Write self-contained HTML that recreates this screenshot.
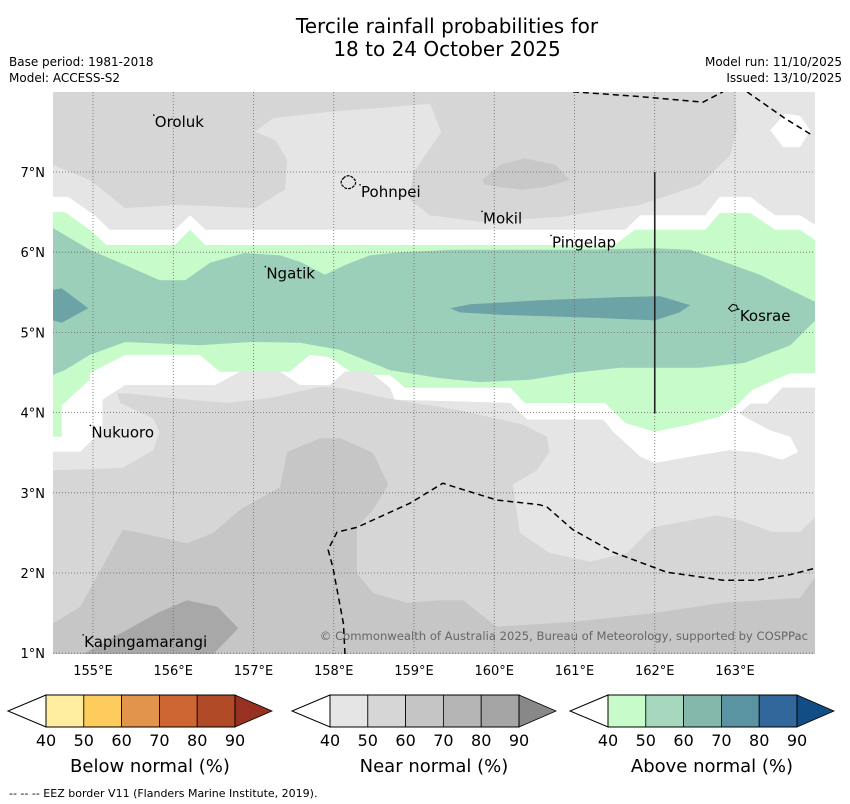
<!DOCTYPE html>
<html><head><meta charset="utf-8"><title>Tercile rainfall probabilities</title>
<style>
html,body{margin:0;padding:0;background:#fff;}
svg{display:block;font-family:"DejaVu Sans","Liberation Sans",sans-serif;}
</style></head>
<body>
<svg id="chart" width="850" height="804" viewBox="0 0 850 804" xmlns="http://www.w3.org/2000/svg">
<text x="447" y="33" font-size="20" text-anchor="middle" fill="#000">Tercile rainfall probabilities for</text>
<text x="447" y="56" font-size="20" text-anchor="middle" fill="#000">18 to 24 October 2025</text>
<text x="9" y="66" font-size="12">Base period: 1981-2018</text>
<text x="9" y="82" font-size="12">Model: ACCESS-S2</text>
<text x="842" y="66" font-size="12" text-anchor="end">Model run: 11/10/2025</text>
<text x="842" y="82" font-size="12" text-anchor="end">Issued: 13/10/2025</text>
<defs><clipPath id="mapclip"><rect x="53" y="92" width="762" height="562"/></clipPath></defs>
<g id="map" clip-path="url(#mapclip)"></g>
<g id="axes"></g>
<g id="bars"></g>
<text x="9" y="797" font-size="11">--  --  -- EEZ border V11 (Flanders Marine Institute, 2019).</text>
</svg>
<script>
// ---- axis data ----
const lonTicks = [155,156,157,158,159,160,161,162,163];
const latTicks = [1,2,3,4,5,6,7];
// ---- contour data (lon, lat) ----
const upperLight = [[154.5,7.09],[154.96,6.90],[155.40,6.55],[156.08,6.59],[157.02,6.55],[157.39,6.78],[157.42,7.15],[157.27,7.40],[157.02,7.50],[157.24,7.67],[157.95,7.75],[159.20,7.85],[159.34,7.50],[158.99,6.99],[158.95,6.65],[159.20,6.46],[159.82,6.38],[160.82,6.44],[161.82,6.59],[162.56,6.84],[162.94,7.21],[163.02,7.52],[163.00,8.0],[164,8],[164,5.9],[154.5,5.9]];
const mokilBlob = [[159.85,6.90],[160.07,7.09],[160.38,7.17],[160.76,7.09],[160.94,6.90],[160.63,6.81],[160.32,6.78],[159.88,6.84]];
const whiteTop = [[154.5,6.69],[154.69,6.69],[155.02,6.46],[155.21,6.28],[156.02,6.28],[156.21,6.46],[156.40,6.28],[161.63,6.28],[161.82,6.46],[162.63,6.46],[162.81,6.69],[163.19,6.69],[163.50,6.46],[163.81,6.46],[164,6.34]];
const whiteLow = [[154.5,3.51],[154.84,3.51],[155.12,3.78],[155.12,4.16],[155.40,4.34],[156.52,4.34],[156.83,4.51],[157.33,4.51],[157.58,4.34],[157.95,4.34],[158.14,4.51],[158.45,4.51],[158.70,4.31],[158.76,4.16],[160.20,4.12],[160.41,3.91],[161.36,3.91],[161.48,3.76],[161.82,3.45],[162.00,3.37],[162.56,3.47],[162.94,3.53],[163.27,3.50],[163.59,3.41],[163.79,3.51],[163.69,3.70],[163.44,3.78],[163.19,3.91],[163.06,3.99],[163.19,4.11],[163.40,4.11],[163.59,4.31],[164,4.31]];
const greenTop = [[154.5,6.50],[154.65,6.50],[154.96,6.28],[155.17,6.09],[156.02,6.09],[156.21,6.28],[156.40,6.09],[161.50,6.09],[161.75,6.28],[162.63,6.28],[162.81,6.49],[163.19,6.49],[163.50,6.28],[163.81,6.28],[164,6.15]];
const greenLow = [[154.5,3.70],[154.61,3.70],[154.61,4.09],[154.96,4.41],[154.96,4.49],[155.40,4.72],[156.33,4.72],[156.58,4.51],[157.45,4.51],[157.70,4.72],[157.95,4.69],[158.26,4.47],[158.70,4.47],[158.89,4.31],[160.20,4.31],[160.38,4.12],[161.38,4.12],[161.63,3.87],[162.00,3.76],[162.43,3.85],[162.81,3.95],[163.02,4.09],[163.21,4.28],[163.50,4.41],[163.69,4.49],[164,4.49]];
const midTop = [[154.5,6.30],[154.96,6.03],[155.40,5.84],[155.83,5.65],[156.15,5.65],[156.46,5.87],[156.89,5.99],[157.33,5.96],[157.58,5.88],[157.89,5.72],[158.14,5.84],[158.45,5.96],[158.83,6.00],[159.51,6.03],[161.07,6.03],[162.00,6.05],[162.44,6.03],[162.81,5.90],[163.31,5.72],[163.69,5.53],[164,5.38]];
const midLow = [[154.5,4.47],[154.65,4.53],[154.96,4.72],[155.40,4.88],[156.33,4.84],[156.96,4.88],[157.58,4.87],[158.08,4.78],[158.70,4.53],[159.32,4.43],[159.82,4.38],[160.45,4.41],[160.94,4.49],[161.57,4.56],[162.56,4.56],[163.12,4.62],[163.69,4.84],[164,5.15]];
const darkLeft = [[154.5,5.53],[154.61,5.55],[154.94,5.30],[154.61,5.12],[154.5,5.15]];
const darkCenter = [[159.45,5.30],[159.70,5.35],[160.57,5.40],[161.57,5.44],[162.07,5.45],[162.44,5.34],[162.31,5.25],[162.00,5.15],[161.32,5.18],[160.07,5.22],[159.57,5.25]];
const lowerMid = [[154.5,3.28],[155.37,3.31],[155.75,3.53],[155.83,3.75],[155.75,3.93],[155.34,4.12],[155.30,4.24],[155.42,4.24],[156.00,4.18],[156.67,4.12],[157.24,4.19],[157.83,4.32],[158.08,4.31],[158.66,4.18],[159.57,4.03],[160.36,3.85],[160.66,3.70],[160.69,3.51],[160.53,3.28],[160.23,3.10],[160.32,2.50],[160.69,2.25],[161.19,2.14],[161.65,2.25],[161.98,2.57],[162.78,2.72],[163.06,2.66],[163.47,2.51],[163.81,2.51],[164,2.70],[164,0.99],[154.5,0.99]];
const lowerDark = [[154.5,1.37],[154.84,1.58],[155.37,2.54],[155.59,2.50],[156.17,2.37],[156.50,2.50],[156.83,2.79],[157.33,3.07],[157.42,3.51],[157.83,3.68],[158.08,3.68],[158.49,3.50],[158.68,3.10],[158.49,2.79],[158.29,2.57],[158.29,2.00],[158.49,1.75],[158.91,1.63],[159.32,1.66],[159.61,1.66],[160.03,1.33],[160.98,1.39],[161.98,1.50],[162.85,1.63],[163.81,1.69],[164,1.95],[164,0.99],[154.5,0.99]];
const kapingaBlob = [[154.88,0.99],[155.80,1.50],[156.17,1.66],[156.55,1.58],[156.81,1.31],[156.50,0.99]];
const whiteHex = [[163.44,7.52],[163.62,7.73],[163.81,7.70],[163.94,7.52],[163.81,7.31],[163.60,7.31]];
const eezTop = [[160.98,8.0],[161.82,7.94],[162.60,7.87],[162.85,8.0]];
const eezTopRight = [[163.15,8.0],[163.62,7.67],[163.96,7.46]];
const eezBottom = [[158.14,0.99],[158.12,1.37],[157.99,2.07],[157.93,2.29],[158.04,2.51],[158.29,2.57],[158.95,2.87],[159.36,3.12],[159.45,3.09],[160.03,2.91],[160.57,2.85],[160.66,2.82],[160.98,2.54],[161.48,2.26],[162.15,2.01],[162.85,1.91],[163.27,1.91],[163.69,1.98],[164,2.06]];
const places = ["Oroluk","Pohnpei","Mokil","Pingelap","Ngatik","Kosrae","Nukuoro","Kapingamarangi"];
const placeLon = [155.77,158.34,159.86,160.72,157.16,163.06,154.98,154.89];
const placeLat = [7.56,6.69,6.36,6.06,5.67,5.14,3.69,1.08];
// ---- colorbar data ----
const barTicks = ["40","50","60","70","80","90"];
const barTitles = ["Below normal (%)","Near normal (%)","Above normal (%)"];
const belowColors = ["#ffeda0","#fecc5c","#e1944a","#cd6632","#b14a26","#973121"];
const nearColors = ["#e5e5e5","#d6d6d6","#c5c5c5","#b5b5b5","#a5a5a5","#888888"];
const aboveColors = ["#c7fbc9","#a5d8bc","#84b8aa","#5a93a2","#31679a","#134d85"];

const NS = "http://www.w3.org/2000/svg";
const X = lon => 93 + (lon - 155) * 80.25;
const Y = lat => 172 + (7 - lat) * 80.2;
function mk(tag, parent, attrs){ const e=document.createElementNS(NS,tag); for(const k in attrs) e.setAttribute(k,attrs[k]); parent.appendChild(e); return e; }
const pts = arr => arr.map(p => X(p[0]).toFixed(1)+","+Y(p[1]).toFixed(1)).join(" ");
const map = document.getElementById("map");
function poly(arr, fill, name){
  const e = mk("polygon", map, {points: pts(arr), fill: fill});
  
  
}
const base = mk("rect", map, {x:53,y:92,width:762,height:562,fill:"#d6d6d6"});


poly(upperLight, "#e5e5e5", "near-normal-40-50-north");
poly(mokilBlob, "#c8c8c8", "near-normal-60-70-mokil");
poly(whiteTop.concat(whiteLow.slice().reverse()), "#ffffff", "no-dominant-tercile-band");
poly(greenTop.concat(greenLow.slice().reverse()), "#c7fbc9", "above-normal-40-50");
poly(midTop.concat(midLow.slice().reverse()), "#9ccfb9", "above-normal-50-60");
poly(darkLeft, "#6ba3a7", "above-normal-60-70-west");
poly(darkCenter, "#6ba3a7", "above-normal-60-70-central");
poly(whiteLow.concat([[164,0.99],[154.5,0.99]]), "#e5e5e5", "near-normal-40-50-south");
poly(lowerMid, "#d6d6d6", "near-normal-50-60-south");
poly(lowerDark, "#c6c6c6", "near-normal-60-70-south");
poly(kapingaBlob, "#a8a8a8", "near-normal-70-80-kapingamarangi");
poly(whiteHex, "#ffffff", "no-dominant-tercile-northeast");

for (const lon of lonTicks){
  const l = mk("line", map, {x1:X(lon),x2:X(lon),y1:92,y2:654,stroke:"#666","stroke-width":0.8,"stroke-dasharray":"1,2"});
  
  
}
for (const lat of latTicks){
  const l = mk("line", map, {x1:53,x2:815,y1:Y(lat),y2:Y(lat),stroke:"#666","stroke-width":0.8,"stroke-dasharray":"1,2"});
  
  
}
for (const [arr,name] of [[eezTop,"eez-border-north"],[eezTopRight,"eez-border-northeast"],[eezBottom,"eez-border-south"]]){
  const e = mk("polyline", map, {points: pts(arr), fill:"none", stroke:"#000","stroke-width":1.5,"stroke-dasharray":"6,4"});
  
  
}
const vl = mk("line", map, {x1:X(162),x2:X(162),y1:Y(7),y2:Y(3.99),stroke:"#222","stroke-width":1.6});


const pohn = mk("path", map, {d:`M${X(158.12)},${Y(6.92)} c3,-4 8,-3 10,0 c3,2 3,6 0,8 c-3,3 -8,3 -10,0 c-3,-2 -3,-6 0,-8 z`, fill:"none", stroke:"#000","stroke-width":1.2,"stroke-dasharray":"3,1"});


const kos = mk("path", map, {d:`M${X(162.92)},${Y(5.30)} l4,-4 l4,1 l1,4 l-6,2 z`, fill:"none", stroke:"#000","stroke-width":1});


places.forEach((p,i)=>{
  const d = mk("circle", map, {cx:X(placeLon[i])-1, cy:Y(placeLat[i])-12, r:0.8, fill:"#000"});
  
  
  const t = mk("text", map, {x:X(placeLon[i]), y:Y(placeLat[i]), "font-size":15, fill:"#000"});
  t.textContent = p;
  
  
});
const cp = mk("text", map, {x:808,y:640,"font-size":11.6,fill:"#666","text-anchor":"end"});
cp.textContent = "© Commonwealth of Australia 2025, Bureau of Meteorology, supported by COSPPac";



const axes = document.getElementById("axes");
for (const lon of lonTicks){
  const t = mk("text", axes, {x:X(lon), y:675, "font-size":13, "text-anchor":"middle"});
  t.textContent = lon + "°E";
  
  
}
for (const lat of latTicks){
  const t = mk("text", axes, {x:45, y:Y(lat)+5, "font-size":13, "text-anchor":"end"});
  t.textContent = lat + "°N";
  
  
}

const bars = document.getElementById("bars");
const barLeft = [46,330,608];
const palettes = [belowColors, nearColors, aboveColors];
const barNames = ["below-normal-colorbar","near-normal-colorbar","above-normal-colorbar"];
palettes.forEach((cols,b)=>{
  const g = mk("g", bars, {});
  
  
  const x0 = barLeft[b], w = 37.8, y0 = 695, h = 32;
  mk("polygon", g, {points:`${x0},${y0} ${x0-38},${y0+h/2} ${x0},${y0+h}`, fill:"#fff", stroke:"#000","stroke-width":1});
  for (let i=0;i<5;i++){
    const r = mk("rect", g, {x:x0+i*w, y:y0, width:w, height:h, fill:cols[i], stroke:"#000","stroke-width":0.8});
    
    
  }
  const xe = x0 + 5*w;
  mk("polygon", g, {points:`${xe},${y0} ${xe+37},${y0+h/2} ${xe},${y0+h}`, fill:cols[5], stroke:"#000","stroke-width":0.8});
  mk("rect", g, {x:x0,y:y0,width:5*w,height:h,fill:"none",stroke:"#000","stroke-width":1});
  barTicks.forEach((tk,i)=>{
    const t = mk("text", g, {x:x0+i*w, y:746, "font-size":16, "text-anchor":"middle"});
    t.textContent = tk;
    
    
  });
  const tt = mk("text", g, {x:x0+2.75*w, y:772, "font-size":18, "text-anchor":"middle"});
  tt.textContent = barTitles[b];
  
  
});
</script>
</body></html>
